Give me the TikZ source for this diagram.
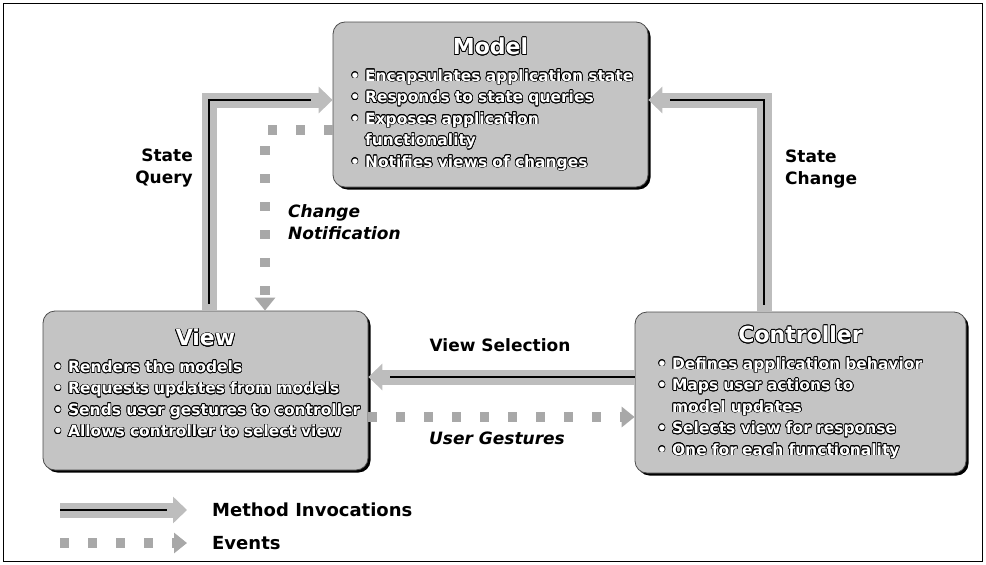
\documentclass[tikz,border=0pt]{standalone}
\usepackage{fontspec}
\setmainfont{DejaVu Sans}
\usepackage[copies]{contour}
\usetikzlibrary{arrows.meta,shadows}
\setlength{\parindent}{0pt}
\contourlength{0.7pt}
\definecolor{boxgray}{HTML}{C4C4C4}
\definecolor{bandgray}{HTML}{BDBDBD}
\definecolor{dotgray}{HTML}{A8A8A8}
% one line of a box, with and without the bullet
\newcommand{\boxline}[1]{\contour{black}{\textbullet\ #1}\par}
\newcommand{\boxcont}[1]{\phantom{\textbullet\ }\contour{black}{#1}\par}
\newcommand{\boxtitle}[1]{{\centering\fontsize{22}{26}\selectfont\contour{black}{#1}\par}\vspace{5pt}}

\begin{document}
\begin{tikzpicture}[x=1pt, y=-1pt,
        mvcbox/.style={draw=black!70, line width=0.8pt, fill=boxgray, rounded corners=12pt, text=white,
          align=left, inner ysep=0pt, font=\fontsize{15.5}{21.5}\selectfont\bfseries,
          drop shadow={shadow xshift=2.5pt, shadow yshift=-2.5pt, fill=black, opacity=1}},
        method/.style={line width=15pt, draw=bandgray, -{Triangle[length=14pt, width=26pt, fill=bandgray]}},
        methodedge/.style={line width=1.6pt, draw=black},
        event/.style={line width=10pt, draw=dotgray, dash pattern=on 9pt off 19pt,
          -{Triangle[length=13pt, width=20pt, fill=dotgray]}},
        lbl/.style={font=\fontsize{17}{22}\selectfont\bfseries, inner sep=0pt},
        legend/.style={font=\fontsize{18}{22}\selectfont\bfseries, inner sep=0pt, anchor=west}]

  \useasboundingbox (0,0) rectangle (986,565);
  \draw[line width=1pt] (3,3) rectangle (982,561);

  % the three boxes
  \node[mvcbox, minimum width=315pt, minimum height=165pt, inner xsep=17pt, text width=281pt] (model) at (490.5,104.5) {%
    \boxtitle{Model}
    \boxline{Encapsulates application state}
    \boxline{Responds to state queries}
    \boxline{Exposes application}
    \boxcont{functionality}
    \boxline{Notifies views of changes}};
  \node[mvcbox, minimum width=325pt, minimum height=159pt, inner xsep=10pt, text width=305pt] (view) at (205.5,390.5) {%
    \boxtitle{View}
    \boxline{Renders the models}
    \boxline{Requests updates from models}
    \boxline{Sends user gestures to controller}
    \boxline{Allows controller to select view}
    \vspace*{14pt}};
  \node[mvcbox, minimum width=331pt, minimum height=161pt, inner xsep=22pt, text width=287pt] (ctrl) at (800.5,392.5) {%
    \boxtitle{Controller}
    \boxline{Defines application behavior}
    \boxline{Maps user actions to}
    \boxcont{model updates}
    \boxline{Selects view for response}
    \boxline{One for each functionality}};

  \coordinate (sqbend) at (209,100);
  \coordinate (scbend) at (764,100);
  \coordinate (cnbend) at (265,130);
  \coordinate (vsline) at (0,377);
  \coordinate (ugline) at (0,417);

  % method invocations
  \draw[method] (view.north -| sqbend) -- (sqbend) -- (model.west |- sqbend);
  \draw[methodedge, shift={(7,7)}, shorten <=7pt, shorten >=22pt] (view.north -| sqbend) -- (sqbend) -- (model.west |- sqbend);
  \draw[method] (ctrl.north -| scbend) -- (scbend) -- (model.east |- scbend);
  \draw[methodedge, shift={(-7,7)}, shorten <=7pt, shorten >=22pt] (ctrl.north -| scbend) -- (scbend) -- (model.east |- scbend);
  \draw[method] (ctrl.west |- vsline) -- (view.east |- vsline);
  \draw[methodedge, shift={(0,7)}, shorten >=22pt] (ctrl.west |- vsline) -- (view.east |- vsline);

  % events
  \draw[event] (model.west |- cnbend) -- (cnbend) -- (view.north -| cnbend);
  \draw[event] (view.east |- ugline) -- (ctrl.west |- ugline);

  % labels
  \node[lbl, align=right, anchor=east] (sqlabel) at (193,168) {State\\Query};
  \node[lbl, align=left, anchor=west] (sclabel) at (785,169) {State\\Change};
  \node[lbl, font=\fontsize{17}{22}\selectfont\bfseries\itshape, align=left, anchor=west] (cnlabel) at (288,222) {Change\\Notification};
  \node[lbl] (vslabel) at (500,345) {View Selection};
  \node[lbl, font=\fontsize{17}{22}\selectfont\bfseries\itshape] (uglabel) at (497,438) {User Gestures};

  % legend
  \node[legend] (mitext) at (212,510) {Method Invocations};
  \node[legend] (evtext) at (212,543) {Events};
  \coordinate (mileg) at (60,510);
  \coordinate (evleg) at (60,543);
  \draw[method, shorten >=25pt] (mileg) -- (mitext.west);
  \draw[methodedge, shift={(0,7)}, shorten >=45pt] (mileg) -- (mitext.west);
  \draw[event, shorten >=25pt] (evleg) -- (evtext.west);
\end{tikzpicture}
\end{document}
